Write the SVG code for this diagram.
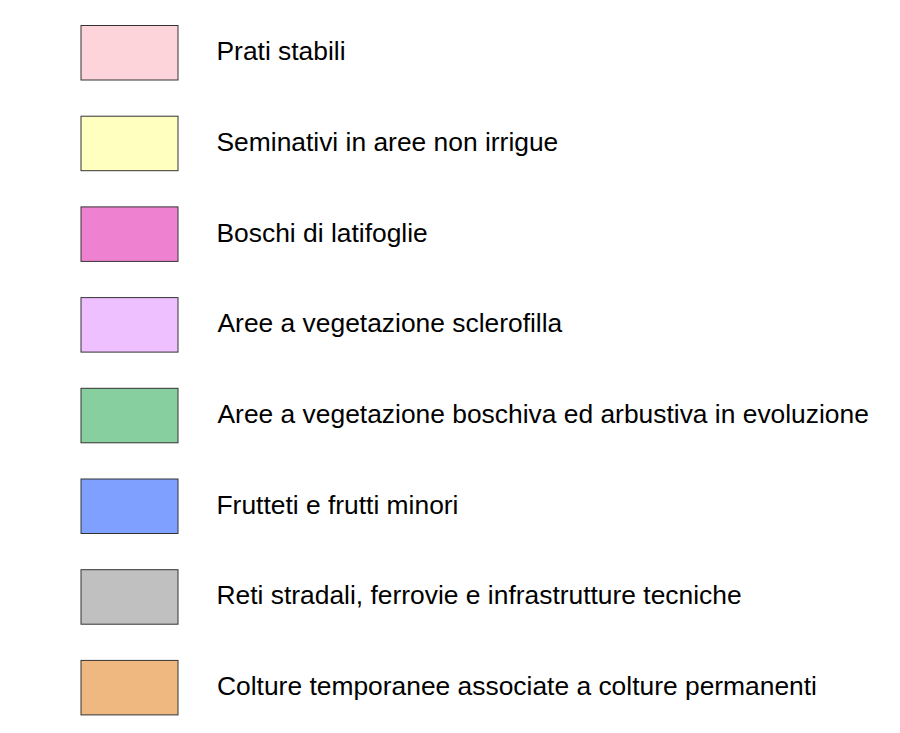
<svg xmlns="http://www.w3.org/2000/svg" width="900" height="733" viewBox="0 0 900 733">
<style>
.box{stroke:#333333;stroke-width:1}
.lbl{font-family:"Liberation Sans",Arial,sans-serif;font-size:26.4px;fill:#000000}
</style>
<rect width="900" height="733" fill="#ffffff"/>
<g id="n1"><rect class="box" x="81" y="25.5" width="97" height="54.5" fill="#FDD4D9"/><text class="lbl" x="216.5" y="60.2">Prati stabili</text></g>
<g id="n2"><rect class="box" x="81" y="116.2" width="97" height="54.5" fill="#FFFFC0"/><text class="lbl" x="216.5" y="150.9">Seminativi in aree non irrigue</text></g>
<g id="n3"><rect class="box" x="81" y="206.9" width="97" height="54.5" fill="#EE82D0"/><text class="lbl" x="216.5" y="241.6">Boschi di latifoglie</text></g>
<g id="n4"><rect class="box" x="81" y="297.6" width="97" height="54.5" fill="#EEC0FF"/><text class="lbl" x="217.5" y="332.3">Aree a vegetazione sclerofilla</text></g>
<g id="n5"><rect class="box" x="81" y="388.3" width="97" height="54.5" fill="#88CFA0"/><text class="lbl" x="217.5" y="423">Aree a vegetazione boschiva ed arbustiva in evoluzione</text></g>
<g id="n6"><rect class="box" x="81" y="479" width="97" height="54.5" fill="#80A0FF"/><text class="lbl" x="216.5" y="513.7">Frutteti e frutti minori</text></g>
<g id="n7"><rect class="box" x="81" y="569.7" width="97" height="54.5" fill="#C0C0C0"/><text class="lbl" x="216.5" y="604.4">Reti stradali, ferrovie e infrastrutture tecniche</text></g>
<g id="n8"><rect class="box" x="81" y="660.4" width="97" height="54.5" fill="#EEB880"/><text class="lbl" x="217" y="695.1">Colture temporanee associate a colture permanenti</text></g>
<g id="connectors"></g>
</svg>
